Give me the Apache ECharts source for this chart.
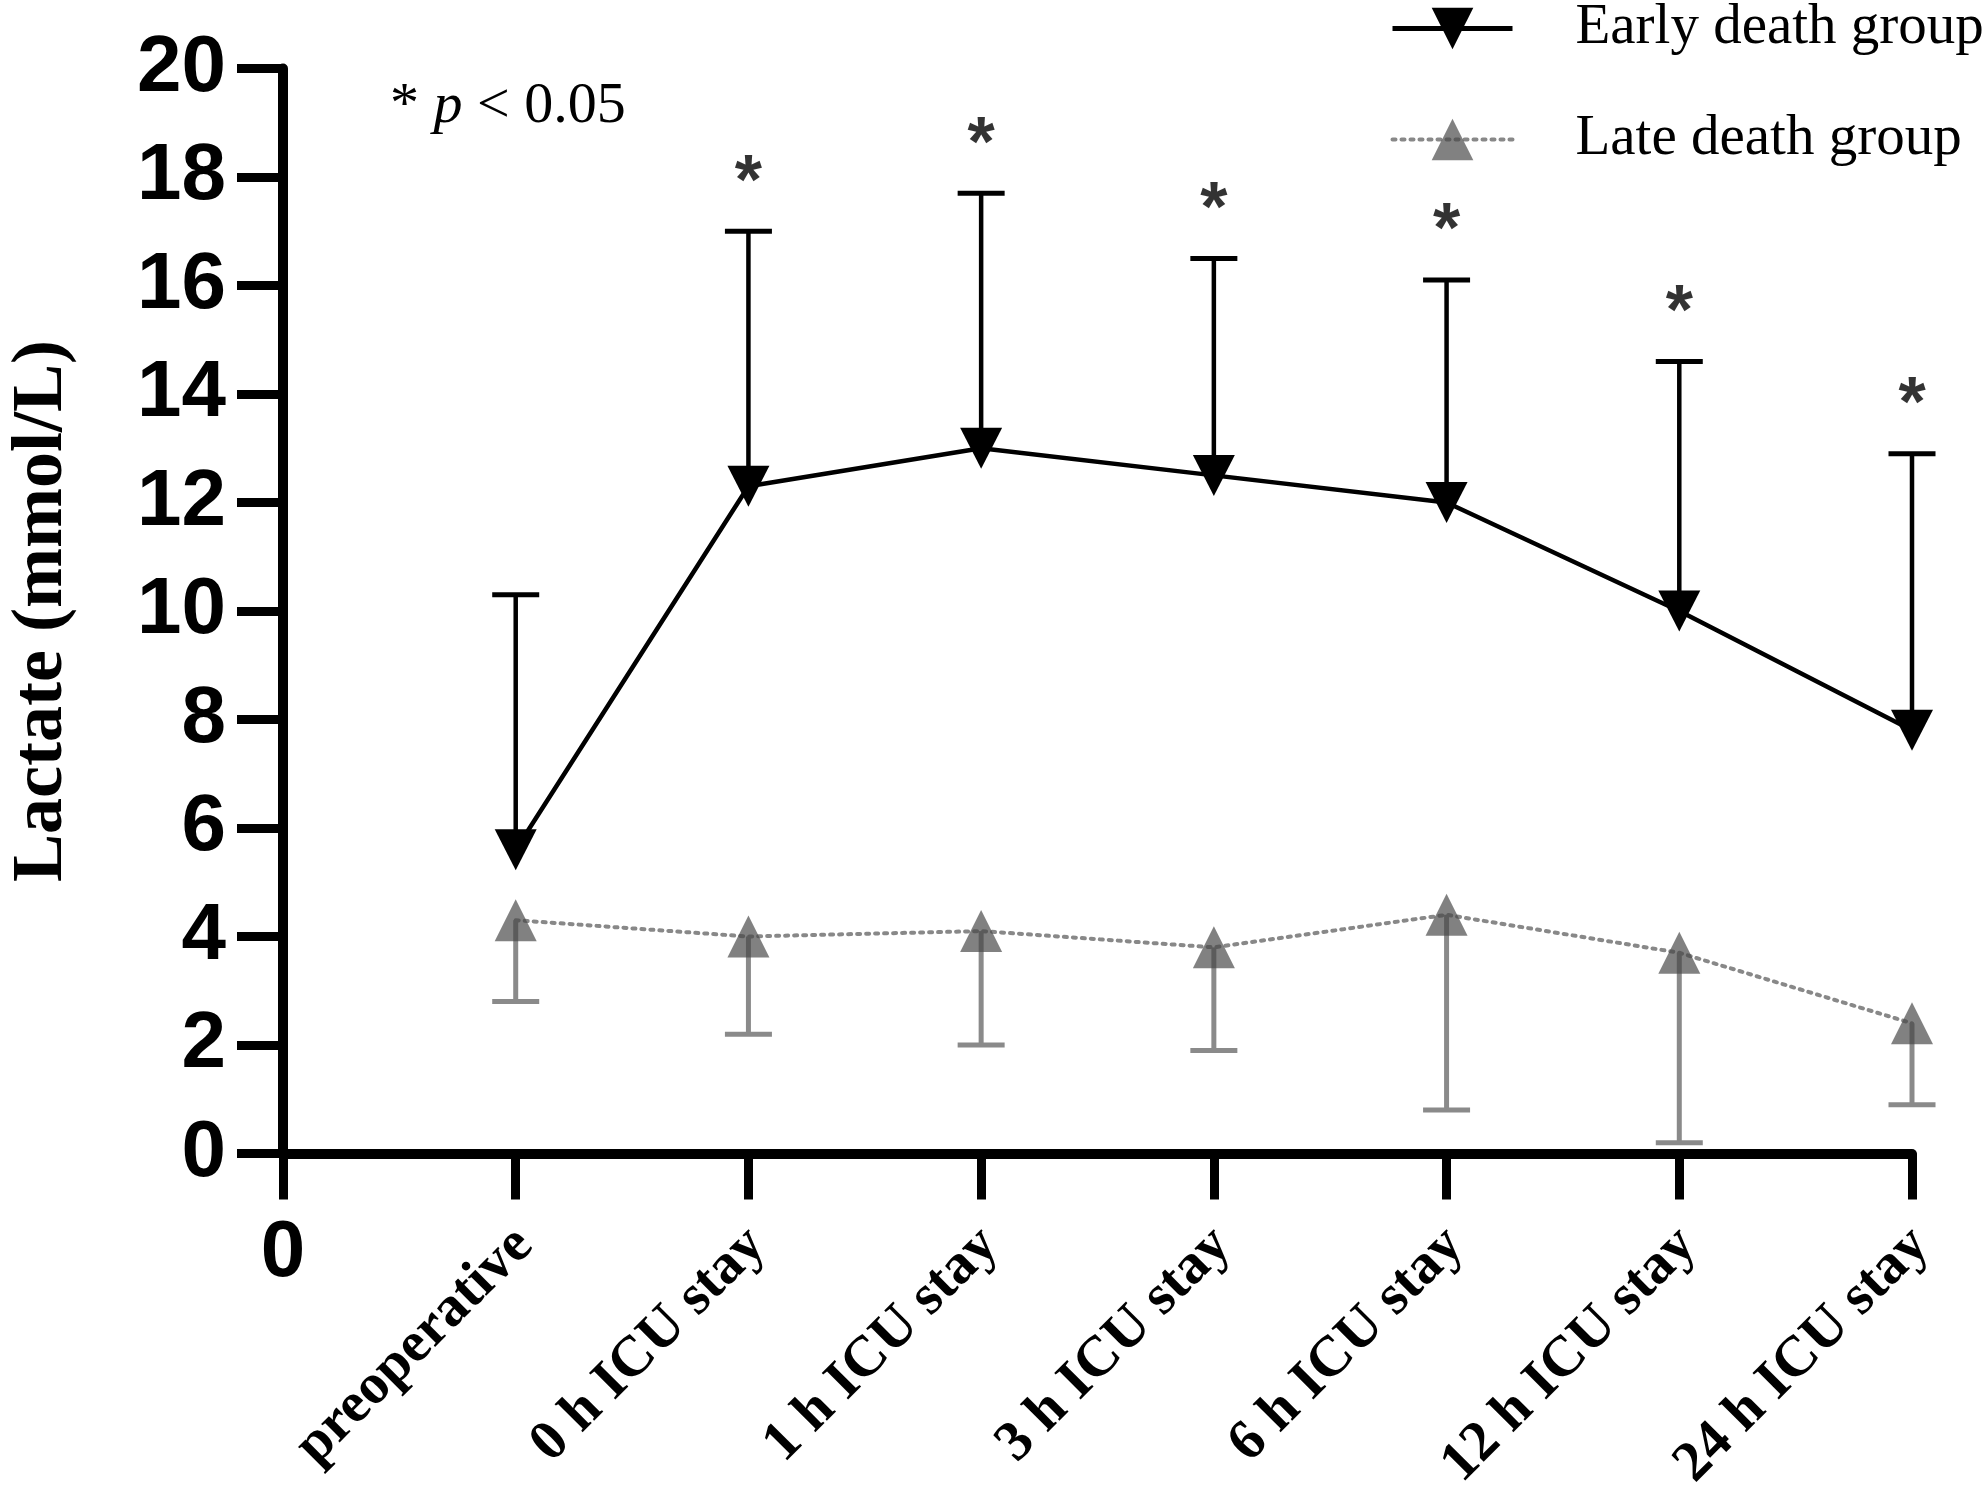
<!DOCTYPE html>
<html>
<head>
<meta charset="utf-8">
<script src="https://cdn.jsdelivr.net/npm/echarts@6/dist/echarts.min.js"></script>
<style>
  html, body { margin: 0; padding: 0; background: #fff; }
  #chart { width: 1985px; height: 1492px; }
</style>
</head>
<body>
<div id="chart"></div>
<script>
// ---- data ----
const categories = ['preoperative', '0 h ICU stay', '1 h ICU stay', '3 h ICU stay', '6 h ICU stay', '12 h ICU stay', '24 h ICU stay'];
const earlyMean = [5.6, 12.3, 13.0, 12.5, 12.0, 10.0, 7.8];
const earlyUpper = [10.3, 17.0, 17.7, 16.5, 16.1, 14.6, 12.9];
const lateMean = [4.3, 4.0, 4.1, 3.8, 4.4, 3.7, 2.4];
const lateLower = [2.8, 2.2, 2.0, 1.9, 0.8, 0.2, 0.9];
const significant = [false, true, true, true, true, true, true];
const yMin = 0, yMax = 20, yStep = 2;
const seriesNames = ['Early death group', 'Late death group'];

// ---- build ----
const SERIF = "'Liberation Serif', 'Times New Roman', serif";
const SANS = "'Liberation Sans', Arial, sans-serif";
const xPos = categories.map((c, i) => i + 1);
const earlyData = xPos.map((x, i) => [x, earlyMean[i]]);
const lateData = xPos.map((x, i) => [x, lateMean[i]]);
const earlyErr = xPos.map((x, i) => [x, earlyMean[i], earlyUpper[i]]);
const lateErr = xPos.map((x, i) => [x, lateMean[i], lateLower[i]]);
const starData = xPos.filter((x, i) => significant[i]).map(x => [x, earlyUpper[x - 1]]);

function errRenderer(color, stemW, capW, capHalf) {
  return function (params, api) {
    const x = api.value(0);
    const p0 = api.coord([x, api.value(1)]);
    const p1 = api.coord([x, api.value(2)]);
    return {
      type: 'group',
      children: [
        { type: 'line', shape: { x1: p0[0], y1: p0[1], x2: p1[0], y2: p1[1] },
          style: { stroke: color, lineWidth: stemW } },
        { type: 'line', shape: { x1: p1[0] - capHalf, y1: p1[1], x2: p1[0] + capHalf, y2: p1[1] },
          style: { stroke: color, lineWidth: capW } }
      ]
    };
  };
}

const downTri = 'path://M0,0 L10,0 L5,10 Z';
const lateDash = [3, 6];

const option = {
  animation: false,
  backgroundColor: '#fff',
  grid: { left: 283, right: 73, top: 68.5, bottom: 338.5, containLabel: false, outerBoundsMode: 'none' },
  title: {
    text: '{a|* }{b|p }{a|< 0.05}',
    left: 390, top: 78, padding: 0,
    textStyle: {
      rich: {
        a: { fontFamily: SERIF, fontSize: 58, fontWeight: 'normal', color: '#000' },
        b: { fontFamily: SERIF, fontSize: 58, fontWeight: 'normal', fontStyle: 'italic', color: '#000' }
      }
    }
  },
  legend: {
    orient: 'vertical',
    left: 1390, top: 0, padding: 0,
    itemWidth: 120, itemHeight: 52, itemGap: 54,
    data: [
      { name: seriesNames[0], lineStyle: { width: 5, color: '#000' } },
      { name: seriesNames[1], lineStyle: { width: 4, color: '#888', type: lateDash, cap: 'round' } }
    ],
    textStyle: { fontFamily: SERIF, fontSize: 57, color: '#000', lineHeight: 57, padding: [0, 0, 0, 58] }
  },
  xAxis: [
    {
      type: 'value', min: 0, max: categories.length, interval: 1,
      axisLine: { show: true, onZero: false, lineStyle: { color: '#000', width: 10 } },
      axisTick: { show: true, length: 46, lineStyle: { color: '#000', width: 9 } },
      splitLine: { show: false },
      axisLabel: {
        rotate: 45, margin: 75, align: 'right', verticalAlign: 'top', lineHeight: 24,
        fontFamily: SERIF, fontWeight: 'bold', fontSize: 57, color: '#000',
        showMinLabel: true, showMaxLabel: true,
        formatter: v => (v >= 1 && v <= categories.length) ? categories[v - 1] : ''
      }
    },
    {
      type: 'value', min: 0, max: categories.length, interval: 1, position: 'bottom',
      axisLine: { show: false }, axisTick: { show: false }, splitLine: { show: false },
      axisLabel: {
        margin: 60, fontFamily: SANS, fontWeight: 'bold', fontSize: 80, color: '#000',
        showMinLabel: true,
        formatter: v => v === 0 ? '0' : ''
      }
    }
  ],
  yAxis: {
    type: 'value', min: yMin, max: yMax, interval: yStep,
    name: 'Lactate (mmol/L)', nameLocation: 'middle', nameGap: 205,
    nameTextStyle: { fontFamily: SERIF, fontWeight: 'bold', fontSize: 72, color: '#000' },
    axisLine: { show: true, onZero: false, lineStyle: { color: '#000', width: 10 } },
    axisTick: { show: true, length: 46, lineStyle: { color: '#000', width: 9 } },
    splitLine: { show: false },
    axisLabel: { margin: 57, fontFamily: SANS, fontWeight: 'bold', fontSize: 80, color: '#000' }
  },
  series: [
    {
      name: 'earlyErr', type: 'custom', xAxisIndex: 0, z: 2,
      renderItem: errRenderer('#000', 4.5, 5, 23.5),
      data: earlyErr, silent: true
    },
    {
      name: 'lateErr', type: 'custom', xAxisIndex: 0, z: 2,
      renderItem: errRenderer('#8a8a8a', 5, 5, 23.5),
      data: lateErr, silent: true
    },
    {
      name: 'stars', type: 'scatter', xAxisIndex: 0, z: 3,
      symbolSize: 0, data: starData, silent: true,
      label: { show: true, position: 'top', distance: 12, formatter: '*',
               fontFamily: SANS, fontWeight: 'bold', fontSize: 70, color: '#000' }
    },
    {
      name: seriesNames[1], type: 'line', xAxisIndex: 0, z: 4,
      data: lateData, showAllSymbol: true,
      symbol: 'triangle', symbolSize: [42, 42],
      lineStyle: { color: '#888', width: 4, type: lateDash, cap: 'round' },
      itemStyle: { color: 'rgba(70,70,70,0.68)' }
    },
    {
      name: seriesNames[0], type: 'line', xAxisIndex: 0, z: 5,
      data: earlyData, showAllSymbol: true,
      symbol: downTri, symbolSize: [42, 41],
      lineStyle: { color: '#000', width: 4.5 },
      itemStyle: { color: '#000' }
    }
  ]
};

const chart = echarts.init(document.getElementById('chart'), null, { renderer: 'canvas' });
chart.setOption(option);
</script>
</body>
</html>
